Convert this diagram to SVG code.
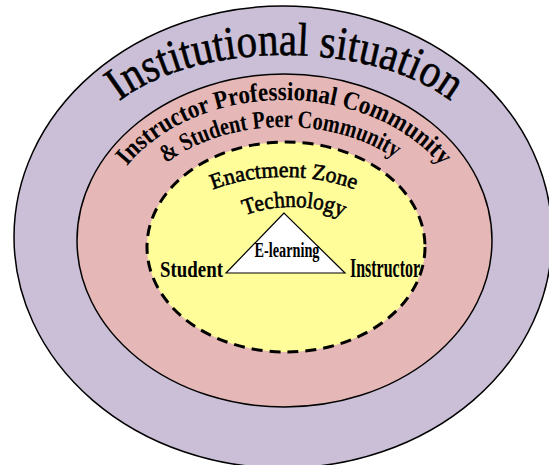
<svg xmlns="http://www.w3.org/2000/svg" width="549" height="465" viewBox="0 0 549 465">
<style>
.ring{stroke:#000;stroke-width:1.5}
.serif{font-family:"Liberation Serif","Times New Roman",serif;fill:#000}
.b{font-weight:bold}
.thick{stroke:#000;stroke-width:0.6}
</style>
<defs>
<path id="p1" d="M 85 160 A 200 105 0 0 1 485 160"/>
<path id="p2" d="M 99 240 A 185 140 0 0 1 469 240"/>
<path id="p3" d="M 124 240 A 160 113 0 0 1 444 240"/>
<path id="p4" d="M 160 247 A 124 70 0 0 1 408 247"/>
<path id="p5" d="M 205.5 260 A 86.5 53 0 0 1 378.5 260"/>
</defs>
<rect width="549" height="465" fill="#fff"/>
<g id="institutional">
<ellipse class="ring" cx="283" cy="237" rx="269" ry="231" fill="#CBBFD8"/>
<text class="serif thick" font-size="47"><textPath href="#p1" startOffset="50%" text-anchor="middle" textLength="350" lengthAdjust="spacingAndGlyphs">Institutional situation</textPath></text>
</g>
<g id="community">
<ellipse class="ring" cx="284.5" cy="240.5" rx="207.5" ry="166.5" fill="#E5B7B6"/>
<text class="serif b" font-size="26"><textPath href="#p2" startOffset="50%" text-anchor="middle" textLength="352" lengthAdjust="spacingAndGlyphs">Instructor Professional Community</textPath></text>
<text class="serif b" font-size="25"><textPath href="#p3" startOffset="49%" text-anchor="middle" textLength="242" lengthAdjust="spacingAndGlyphs">&amp; Student Peer Community</textPath></text>
</g>
<g id="enactment">
<ellipse cx="286" cy="247" rx="139" ry="105" fill="#FFFD99" stroke="#000" stroke-width="3" stroke-dasharray="11 7"/>
<text class="serif thick" font-size="22"><textPath href="#p4" startOffset="50%" text-anchor="middle" textLength="145" lengthAdjust="spacingAndGlyphs">Enactment Zone</textPath></text>
</g>
<g id="technology">
<text class="serif thick" font-size="23"><textPath href="#p5" startOffset="51%" text-anchor="middle" textLength="100" lengthAdjust="spacingAndGlyphs">Technology</textPath></text>
</g>
<g id="elearning">
<polygon points="284,213 226,273 345,273" fill="#fff" stroke="#000" stroke-width="1.2"/>
<text class="serif b" x="287" y="257" font-size="20" text-anchor="middle" textLength="65" lengthAdjust="spacingAndGlyphs">E-learning</text>
</g>
<g id="student">
<text class="serif b" x="160" y="277" font-size="24" textLength="63" lengthAdjust="spacingAndGlyphs">Student</text>
</g>
<g id="instructor">
<text class="serif b" x="350" y="277" font-size="27" textLength="70" lengthAdjust="spacingAndGlyphs">Instructor</text>
</g>
</svg>
